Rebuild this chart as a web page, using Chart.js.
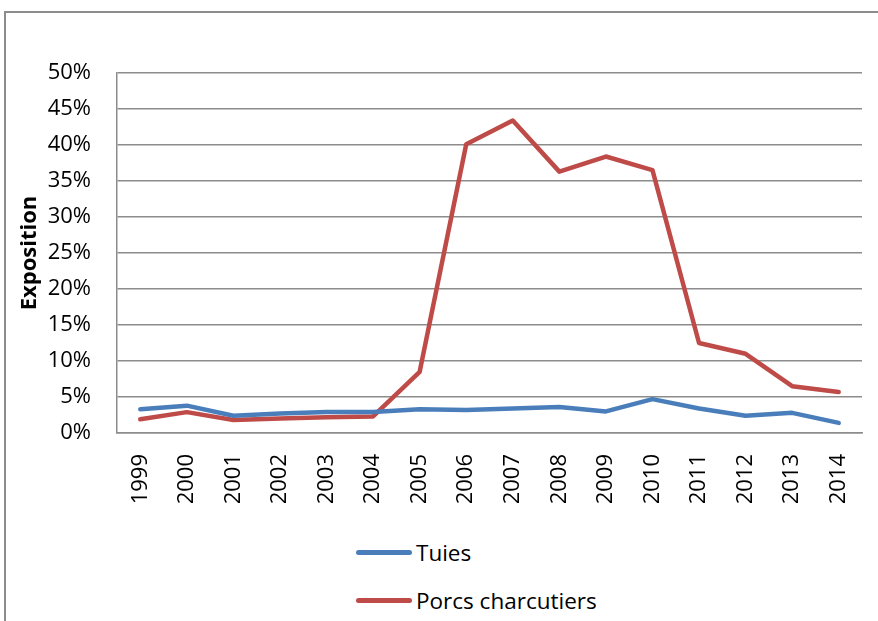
<!DOCTYPE html>
<html>
<head>
<meta charset="utf-8">
<script src="https://cdn.jsdelivr.net/npm/chart.js@4/dist/chart.umd.min.js"></script>
<style>
  html, body { margin: 0; padding: 0; background: #fff; overflow: hidden; width: 878px; height: 621px; }
  #frame { position: absolute; left: 4px; top: 11px; width: 1000px; height: 1000px; border: 2px solid #8c8c8c; }
  #chartBox { position: absolute; left: 0; top: 0; width: 878px; height: 520px; }
  #legend { position: absolute; left: 356px; top: 528px; font-family: "Open Sans", sans-serif; font-size: 22.5px; color: #000; }
  .legItem { display: flex; align-items: center; height: 48px; }
  .legLine { width: 56px; height: 5px; border-radius: 3px; margin-right: 4px; }
</style>
</head>
<body>
<div id="frame"></div>
<div id="chartBox"><canvas id="expoChart" width="878" height="520"></canvas></div>
<div id="legend"></div>
<script>
// years on the x axis
var years = ["1999","2000","2001","2002","2003","2004","2005","2006","2007","2008","2009","2010","2011","2012","2013","2014"];
// exposure, in percent
var tuies = [3.3, 3.8, 2.4, 2.7, 2.9, 2.9, 3.3, 3.2, 3.4, 3.6, 3.0, 4.7, 3.4, 2.4, 2.8, 1.4];
var porcs = [1.9, 2.9, 1.8, 2.0, 2.2, 2.3, 8.5, 40.1, 43.4, 36.3, 38.4, 36.5, 12.5, 11.0, 6.5, 5.7];
var seriesNames = ["Tuies", "Porcs charcutiers"];
var seriesColors = ["#4a7ebb", "#be4b48"];

var gridGrey = "#8c8c8c";
var fontFam = "'Open Sans', sans-serif";

var cx = document.getElementById("expoChart");
var myChart = new Chart(cx, {
  type: "line",
  data: {
    labels: years,
    datasets: [{
      label: seriesNames[0],
      data: tuies,
      borderColor: seriesColors[0],
      backgroundColor: seriesColors[0],
      borderWidth: 4.5,
      tension: 0,
      pointRadius: 0,
      borderJoinStyle: "round",
      borderCapStyle: "round",
      fill: false
    },
    {
      label: seriesNames[1],
      data: porcs,
      borderColor: seriesColors[1],
      backgroundColor: seriesColors[1],
      borderWidth: 4.5,
      tension: 0,
      pointRadius: 0,
      borderJoinStyle: "round",
      borderCapStyle: "round",
      fill: false
    }]
  },
  options: {
    responsive: false,
    animation: false,
    layout: { padding: { left: 17, right: 16, top: 73, bottom: 17 } },
    plugins: {
      legend: { display: false },
      tooltip: { enabled: false }
    },
    scales: {
      x: {
        offset: true,
        grid: { display: false, drawTicks: false },
        border: { display: true, color: gridGrey, width: 1.5 },
        ticks: {
          color: "#000",
          font: { family: fontFam, size: 22 },
          minRotation: 90, maxRotation: 90,
          padding: 21,
          autoSkip: false
        },
        afterFit: function(scale) {
          scale.height = 70;
          // rotated labels sit inside the plot width, no side overhang needed
          scale.paddingLeft = 0;
          scale.paddingRight = 0;
        }
      },
      y: {
        min: 0, max: 50,
        grid: { color: gridGrey, lineWidth: 1.5, drawTicks: false },
        border: { display: true, color: gridGrey, width: 1.5 },
        ticks: {
          stepSize: 5,
          color: "#000",
          padding: 26,
          font: { family: fontFam, size: 22 },
          callback: function(v) { return v + "%"; }
        },
        title: {
          display: true,
          text: "Exposition",
          color: "#000",
          padding: 0,
          font: { family: fontFam, size: 22, weight: "bold" }
        },
        afterFit: function(scale) { scale.width = 100; }
      }
    }
  }
});

// legend stacked vertically under the chart, like the original
var leg = document.getElementById("legend");
myChart.data.datasets.forEach(function(ds) {
  var item = document.createElement("div");
  item.className = "legItem";
  var ln = document.createElement("span");
  ln.className = "legLine";
  ln.style.background = ds.borderColor;
  var tx = document.createElement("span");
  tx.textContent = ds.label;
  item.appendChild(ln);
  item.appendChild(tx);
  leg.appendChild(item);
});
</script>
</body>
</html>
